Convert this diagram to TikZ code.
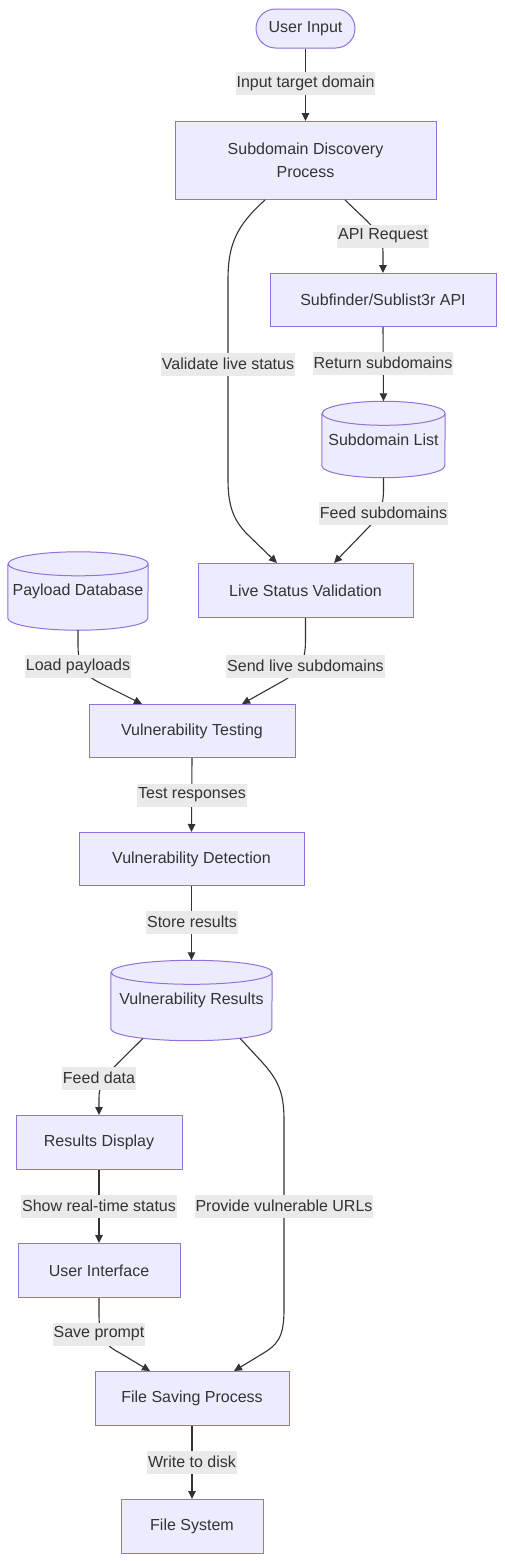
\documentclass[tikz,border=0pt]{standalone}
\usepackage{fontspec}
\setmainfont{Liberation Sans}
\usetikzlibrary{arrows.meta,calc,backgrounds}
\definecolor{nfill}{HTML}{ECECFF}
\definecolor{nstroke}{HTML}{9370DB}
\definecolor{lcol}{HTML}{333333}
\definecolor{lbg}{HTML}{EAEAEA}
\newcommand\dbshape[2]{%
  \fill[nfill] ($(#1.north west)+(0,-12)$) -- ($(#1.south west)+(0,12)$)
    arc[start angle=180,end angle=360,x radius=#2pt,y radius=12pt]
    -- ($(#1.north east)+(0,-12)$)
    arc[start angle=0,end angle=180,x radius=#2pt,y radius=12pt] -- cycle;
  \draw[nstroke,line width=1pt] ($(#1.north west)+(0,-12)$) -- ($(#1.south west)+(0,12)$)
    arc[start angle=180,end angle=360,x radius=#2pt,y radius=12pt]
    -- ($(#1.north east)+(0,-12)$)
    arc[start angle=0,end angle=360,x radius=#2pt,y radius=12pt];
}
\begin{document}
\begin{tikzpicture}[x=1pt,y=1pt,
  box/.style={draw=nstroke,fill=nfill,line width=1pt,inner sep=0pt,text=lcol,
    font=\fontsize{16}{23.5}\selectfont,align=center},
  dbnode/.style={inner sep=0pt,text=lcol,font=\fontsize{16}{23.5}\selectfont,align=center},
  elabel/.style={fill=lbg,text=lcol,inner xsep=1pt,
    inner ysep=0pt,minimum height=23pt,font=\fontsize{16}{19}\selectfont},
  flow/.style={draw=lcol,line width=1.1pt,-{Triangle[length=8pt,width=7.5pt]}}
]
\useasboundingbox (0,0) rectangle (504,-1561);

% nodes
\node[box,rounded corners=19.5pt,minimum width=99pt,minimum height=39pt] (ui) at (305.5,-28.5) {User Input};
\node[box,minimum width=261pt,minimum height=78pt] (sdp) at (305.5,-160.5) {Subdomain Discovery\\Process};
\node[box,minimum width=226pt,minimum height=53pt] (sub) at (383,-300) {Subfinder/Sublist3r API};
\node[dbnode,minimum width=123pt,minimum height=76pt] (sl) at (383.5,-439.5) {Subdomain List};
\node[box,minimum width=215pt,minimum height=54pt] (lsv) at (305.5,-590.5) {Live Status Validation};
\node[dbnode,minimum width=140pt,minimum height=78pt] (pd) at (78,-591) {Payload Database};
\node[box,minimum width=206pt,minimum height=53pt] (vt) at (192,-731) {Vulnerability Testing};
\node[box,minimum width=225pt,minimum height=53pt] (vd) at (191.5,-859) {Vulnerability Detection};
\node[dbnode,minimum width=161pt,minimum height=80pt] (vr) at (191.5,-1000.5) {Vulnerability Results};
\node[box,minimum width=166pt,minimum height=54pt] (rd) at (99,-1142.5) {Results Display};
\node[box,minimum width=162pt,minimum height=54pt] (uif) at (99,-1270.5) {User Interface};
\node[box,minimum width=194pt,minimum height=54pt] (fsp) at (192,-1398.5) {File Saving Process};
\node[box,minimum width=142pt,minimum height=54pt] (fs) at (192,-1526.5) {File System};

\begin{scope}[on background layer]
  \fill[white] (0,0) rectangle (504,-1561);
  \dbshape{sl}{61.5}
  \dbshape{pd}{70}
  \dbshape{vr}{80.5}
\end{scope}

% edges
\draw[flow] (ui.south) -- (sdp.north);
\draw[flow] ($(sdp.south)+(39.5,0)$) -- (366,-220) .. controls (378,-232) and (383,-240) .. (383,-252) -- (sub.north);
\draw[flow] ($(sdp.south)+(-40.5,0)$) .. controls (236,-226) and (228,-245) .. (228,-280) -- (228,-480)
   .. controls (228,-510) and (236,-522) .. (246,-533) -- ($(lsv.north)+(-28.5,0)$);
\draw[flow] (sub.south) -- (sl.north);
\draw[flow] (sl.south) -- (383.5,-490) .. controls (383.5,-510) and (376,-520) .. (365,-531) -- ($(lsv.north)+(28.5,0)$);
\draw[flow] (pd.south) -- (78,-645) .. controls (78,-668) and (85,-675) .. (100,-683) -- ($(vt.north)+(-50,0)$);
\draw[flow] (lsv.south) -- (305.5,-640) .. controls (305.5,-665) and (298,-672) .. (283,-681) -- ($(vt.north)+(50,0)$);
\draw[flow] (vt.south) -- (vd.north);
\draw[flow] (vd.south) -- (vr.north);
\draw[flow] ($(vr.south)+(-48.5,2.4)$) -- (118,-1063) .. controls (104,-1077) and (99,-1085) .. (99,-1098) -- (rd.north);
\draw[flow] (rd.south) -- (uif.north);
\draw[flow] (uif.south) -- (99,-1315) .. controls (99,-1338) and (106,-1346) .. (120,-1353) -- ($(fsp.north)+(-42,0)$);
\draw[flow] ($(vr.south)+(48.5,2.4)$) -- (262,-1062) .. controls (278,-1080) and (284,-1092) .. (284,-1120) -- (284,-1310)
   .. controls (284,-1338) and (277,-1345) .. (262,-1354) -- ($(fsp.north)+(42,0)$);
\draw[flow] (fsp.south) -- (fs.north);

% labels
\node[elabel] (l1) at (305.5,-83.5) {Input target domain};
\node[elabel] (l2) at (383,-236) {API Request};
\node[elabel] (l3) at (228,-364) {Validate live status};
\node[elabel] (l4) at (383,-363) {Return subdomains};
\node[elabel] (l5) at (383.5,-513) {Feed subdomains};
\node[elabel] (l6) at (78,-666) {Load payloads};
\node[elabel] (l7) at (305.5,-666) {Send live subdomains};
\node[elabel] (l8) at (192,-795) {Test responses};
\node[elabel] (l9) at (192,-922) {Store results};
\node[elabel] (l10) at (99,-1078) {Feed data};
\node[elabel] (l11) at (99,-1206) {Show real-time status};
\node[elabel] (l12) at (284,-1206) {Provide vulnerable URLs};
\node[elabel] (l13) at (99,-1334) {Save prompt};
\node[elabel] (l14) at (192,-1462) {Write to disk};
\end{tikzpicture}
\end{document}
